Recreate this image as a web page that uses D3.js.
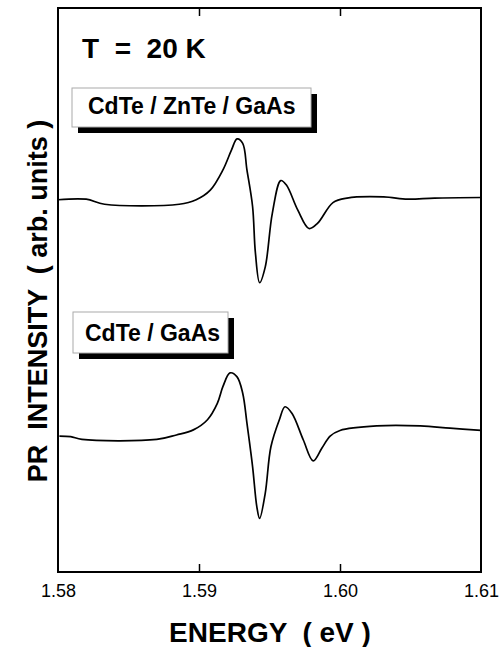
<!DOCTYPE html>
<html><head><meta charset="utf-8">
<script src="https://cdn.jsdelivr.net/npm/d3@7"></script>
<style>body{margin:0;background:#fff}svg{display:block}text{white-space:pre}</style>
</head><body>
<script>
// ---- data ----
const xTicks = [1.58, 1.59, 1.60, 1.61];
const xTickLabels = ["1.58", "1.59", "1.60", "1.61"];
const seriesNames = ["CdTe / ZnTe / GaAs", "CdTe / GaAs"];
// energy (eV) and PR intensity (arb. units, offset curves)
const energyTop = [1.5800,1.5820,1.5833,1.5886,1.5898,1.5908,1.5917,1.5923,1.5927,1.5931,1.5934,1.5938,1.5940,1.5943,1.5947,1.5952,1.5958,1.5962,1.5970,1.5978,1.5984,1.5995,1.6005,1.6031,1.6048,1.6067,1.6100];
const intensityTop = [66.0,66.1,65.2,65.2,66.0,67.7,71.3,74.8,76.8,76.0,71.3,64.8,56.6,51.3,54.1,63.6,69.4,68.6,64.2,60.9,61.8,65.5,66.3,66.5,66.1,66.3,66.4];
const energyBottom = [1.5801,1.5809,1.5817,1.5870,1.5884,1.5896,1.5906,1.5913,1.5917,1.5922,1.5927,1.5931,1.5934,1.5938,1.5941,1.5943,1.5947,1.5951,1.5957,1.5961,1.5966,1.5974,1.5981,1.5987,1.5993,1.6000,1.6026,1.6057,1.6078,1.6100];
const intensityBottom = [24.1,24.0,23.5,23.5,24.3,25.2,27.0,29.9,32.9,35.3,34.6,31.7,26.4,18.7,11.6,9.5,14.0,22.2,27.0,29.3,28.1,23.4,19.7,21.9,24.1,25.1,25.9,25.9,25.5,25.1];
const tempLabel = "T  =  20 K";

// ---- layout ----
const W = 500, H = 647;
const m = {left: 58, right: 19, top: 8, bottom: 75};
const pw = W - m.left - m.right, ph = H - m.top - m.bottom;
const FONT = "Liberation Sans, Arial, sans-serif";

const svg = d3.select("body").append("svg").attr("width", W).attr("height", H);
const g = svg.append("g").attr("transform", `translate(${m.left},${m.top})`);

const x = d3.scaleLinear().domain([1.58, 1.61]).range([0, pw]);
const y = d3.scaleLinear().domain([0, 100]).range([ph, 0]);

const line = d3.line().x(d => x(d[0])).y(d => y(d[1])).curve(d3.curveCatmullRom.alpha(0.5));

g.append("path").datum(d3.zip(energyTop, intensityTop))
  .attr("d", line).attr("fill", "none").attr("stroke", "#000").attr("stroke-width", 1.7);
g.append("path").datum(d3.zip(energyBottom, intensityBottom))
  .attr("d", line).attr("fill", "none").attr("stroke", "#000").attr("stroke-width", 1.7);

// frame
g.append("rect").attr("width", pw).attr("height", ph).attr("fill", "none")
  .attr("stroke", "#000").attr("stroke-width", 2);

// bottom axis (ticks inward)
const xb = d3.axisBottom(x).tickValues(xTicks).tickFormat((d, i) => xTickLabels[i]).tickSizeInner(-8).tickSizeOuter(0).tickPadding(12);
const axB = g.append("g").attr("transform", `translate(0,${ph})`).call(xb);
axB.select(".domain").remove();
axB.selectAll("line").attr("stroke-width", 1.5);
axB.selectAll("text").style("font-family", FONT).style("font-size", "18px").attr("fill", "#000");
axB.selectAll(".tick").filter((d, i) => i === 0 || i === xTicks.length - 1).select("line").remove();

const xt = d3.axisTop(x).tickValues(xTicks.slice(1, -1)).tickFormat("").tickSizeInner(-8).tickSizeOuter(0);
const axT = g.append("g").call(xt);
axT.select(".domain").remove();
axT.selectAll("line").attr("stroke-width", 1.5);

// axis titles
svg.append("text").attr("x", 270).attr("y", 642).attr("text-anchor", "middle")
  .style("font-family", FONT).style("font-weight", "bold").style("font-size", "28px")
  .text("ENERGY  ( eV )");
svg.append("text").attr("transform", `translate(47,301) rotate(-90)`).attr("text-anchor", "middle")
  .style("font-family", FONT).style("font-weight", "bold").style("font-size", "27px")
  .text("PR  INTENSITY  ( arb. units )");

// temperature label
svg.append("text").attr("x", 82).attr("y", 58)
  .style("font-family", FONT).style("font-weight", "bold").style("font-size", "28px")
  .text(tempLabel);

// label boxes with shadow
function labelBox(x0, y0, w, h, txt, tx, ty) {
  svg.append("rect").attr("x", x0 + 6).attr("y", y0 + 6).attr("width", w).attr("height", h).attr("fill", "#000");
  svg.append("rect").attr("x", x0).attr("y", y0).attr("width", w).attr("height", h).attr("fill", "#fff")
    .attr("stroke", "#aaa").attr("stroke-width", 1);
  svg.append("text").attr("x", tx).attr("y", ty)
    .style("font-family", FONT).style("font-weight", "bold").style("font-size", "23px")
    .text(txt);
}
labelBox(72, 88, 239, 39, seriesNames[0], 88, 114);
labelBox(73, 312, 155, 41, seriesNames[1], 85, 341);
</script>
</body></html>
